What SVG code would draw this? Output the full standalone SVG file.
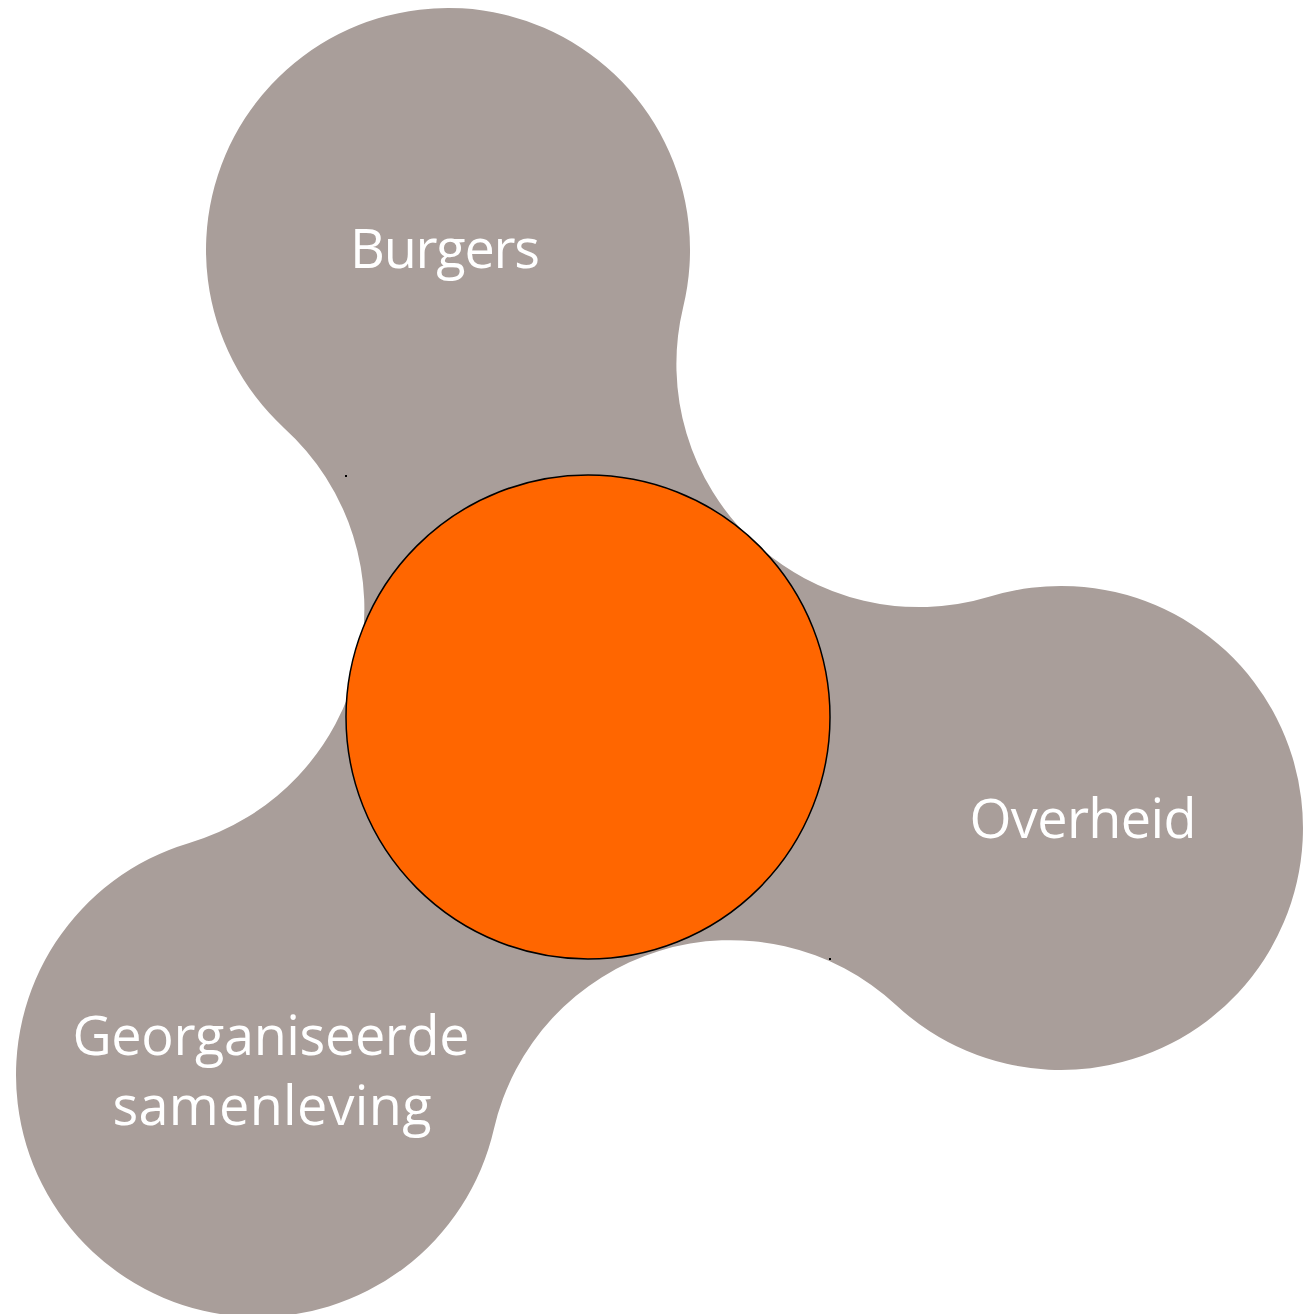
<svg xmlns="http://www.w3.org/2000/svg" width="1313" height="1314" viewBox="0 0 1313 1314">
<style>
.lbl{font-family:"Open Sans","Liberation Sans",sans-serif;font-size:54px;fill:#ffffff;text-anchor:middle}
</style>
<rect width="1313" height="1314" fill="#ffffff"/>
<g id="trefoil">
<path d="M 683.1 307.4 A 243 243 0 0 0 990.0 596.6 A 242 242 0 1 1 896.0 1005.0 A 243 243 0 0 0 493.9 1129.0 A 242 242 0 1 1 188.5 843.2 A 244 244 0 0 0 284.0 427.9 A 242 242 0 1 1 683.1 307.4 Z" fill="#a99e9a"/>
</g>
<g id="burgers"><text class="lbl" x="445" y="268" textLength="190">Burgers</text></g>
<g id="overheid"><text class="lbl" x="1083" y="838" textLength="227">Overheid</text></g>
<g id="georganiseerde">
<text class="lbl" x="271" y="1055" textLength="397">Georganiseerde</text>
<text class="lbl" x="272" y="1125" textLength="319">samenleving</text>
</g>
<g id="center">
<circle cx="588" cy="717" r="242" fill="#ff6600" stroke="#000000" stroke-width="1.5"/>
</g>
<g id="marks">
<rect x="345" y="475" width="2" height="2" fill="#000000"/>
<rect x="829" y="958" width="2" height="2" fill="#000000"/>
</g>
</svg>
